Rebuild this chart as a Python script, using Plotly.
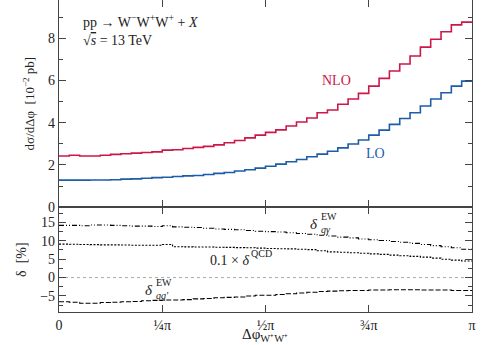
import numpy as np
import plotly.graph_objects as go
from plotly.subplots import make_subplots

# ---- data (40 bins over [0, pi]) ----
n_bins = 40
x_edges = np.linspace(0, np.pi, n_bins + 1)

nlo = [2.42, 2.46, 2.42, 2.42, 2.46, 2.50, 2.53, 2.56, 2.59, 2.62,
       2.70, 2.72, 2.78, 2.83, 2.88, 2.95, 3.05, 3.16, 3.28, 3.41,
       3.54, 3.66, 3.84, 4.03, 4.22, 4.47, 4.60, 4.87, 5.12, 5.39,
       5.73, 6.10, 6.45, 6.78, 7.16, 7.58, 7.95, 8.31, 8.63, 8.76]
lo = [1.28, 1.28, 1.28, 1.29, 1.29, 1.30, 1.33, 1.34, 1.37, 1.40,
      1.42, 1.45, 1.48, 1.50, 1.55, 1.60, 1.64, 1.71, 1.77, 1.85,
      1.94, 2.04, 2.15, 2.26, 2.39, 2.51, 2.65, 2.81, 2.99, 3.18,
      3.41, 3.65, 3.92, 4.20, 4.47, 4.79, 5.12, 5.42, 5.73, 5.97]
delta_qgamma = [14.2, 14.2, 14.1, 14.3, 14.3, 14.2, 14.1, 14.0, 14.0, 13.9,
                14.1, 13.8, 13.7, 13.6, 13.4, 13.2, 13.1, 13.0, 12.8, 12.6,
                12.5, 12.4, 12.2, 12.0, 11.8, 11.5, 11.3, 11.0, 10.8, 10.5,
                10.3, 10.1, 9.8, 9.6, 9.3, 9.0, 8.7, 8.4, 8.1, 7.7]
delta_qcd_01 = [9.1, 9.05, 9.0, 8.95, 8.9, 8.9, 8.85, 8.8, 8.8, 8.8,
                9.0, 8.4, 8.35, 8.3, 8.3, 8.25, 8.2, 8.15, 8.1, 8.0,
                7.9, 7.85, 7.8, 7.7, 7.6, 7.3, 7.0, 6.9, 6.75, 6.6,
                6.45, 6.3, 6.1, 5.95, 5.75, 5.55, 5.3, 5.0, 4.75, 4.5]
delta_qq = [-6.6, -6.7, -7.0, -7.0, -6.8, -6.7, -6.6, -6.5, -6.3, -6.2,
            -6.1, -6.1, -6.0, -5.8, -5.7, -5.5, -5.4, -5.3, -5.0, -4.8,
            -4.8, -4.6, -4.4, -4.2, -4.0, -3.8, -3.7, -3.6, -3.5, -3.5,
            -3.4, -3.4, -3.3, -3.3, -3.3, -3.4, -3.4, -3.4, -3.5, -3.5]

x_tickvals = [0, np.pi / 4, np.pi / 2, 3 * np.pi / 4, np.pi]
x_ticktext = ["0", "¼π", "½π", "¾π", "π"]

RED = "#cc1848"
BLUE = "#1c5ca8"
FONT = "Liberation Serif"

# plot-area geometry in pixels (for placing text)
PX_L, PX_W, PX_H = 59, 413, 312


def steps(vals):
    return list(x_edges), list(vals) + [vals[-1]]


fig = make_subplots(rows=2, cols=1, shared_xaxes=True,
                    row_heights=[0.664, 0.336], vertical_spacing=0)

for vals, col in [(nlo, RED), (lo, BLUE)]:
    xs, ys = steps(vals)
    fig.add_trace(go.Scatter(x=xs, y=ys, mode="lines", line_shape="hv",
                             line=dict(color=col, width=1.6),
                             showlegend=False), row=1, col=1)

fig.add_trace(go.Scatter(x=[0, np.pi], y=[0, 0], mode="lines",
                         line=dict(color="#aaaaaa", width=1, dash="dot"),
                         showlegend=False), row=2, col=1)

for vals, dash in [(delta_qgamma, "5px,2px,1px,2px,1px,2px"),
                   (delta_qcd_01, "2px,1.5px"),
                   (delta_qq, "5px,2px")]:
    xs, ys = steps(vals)
    fig.add_trace(go.Scatter(x=xs, y=ys, mode="lines", line_shape="hv",
                             line=dict(color="black", width=1.1, dash=dash),
                             showlegend=False), row=2, col=1)

axis_common = dict(showline=True, linecolor="#444", linewidth=1.3,
                   mirror="allticks", ticks="inside", tickcolor="#444",
                   showgrid=False, zeroline=False, automargin=False,
                   tickfont=dict(family=FONT, size=14, color="#222"))

fig.update_xaxes(range=[0, np.pi], tickvals=x_tickvals, ticktext=x_ticktext,
                 ticklen=7, **axis_common)
fig.update_xaxes(showticklabels=False, row=1, col=1)

fig.update_yaxes(range=[0, 9.81], tickvals=[0, 2, 4, 6, 8], ticklen=7,
                 minor=dict(dtick=1, ticks="inside", ticklen=4, tickcolor="#444"),
                 title=dict(text="dσ/dΔφ  [10<sup>−2</sup> pb]",
                            font=dict(family=FONT, size=13, color="#222"),
                            standoff=10),
                 row=1, col=1, **axis_common)
fig.update_yaxes(range=[-9.37, 19.15], tickvals=[-5, 0, 5, 10, 15], ticklen=7,
                 ticktext=["−5", "0", "5", "10", "15"],
                 minor=dict(dtick=2.5, tick0=0, ticks="inside", ticklen=4, tickcolor="#444"),
                 title=dict(text="δ  [%]",
                            font=dict(family=FONT, size=14, color="#222"),
                            standoff=10),
                 row=2, col=1, **axis_common)


def add_text(txt, px, py, col="#222", sz=14, anchor="center"):
    fig.add_annotation(text=txt, xref="paper", yref="paper",
                       x=(px - PX_L) / PX_W, y=(PX_H - py) / PX_H,
                       xanchor=anchor, yanchor="middle", showarrow=False,
                       font=dict(family=FONT, size=sz, color=col))


add_text("pp → W<sup>−</sup>W<sup>+</sup>W<sup>+</sup> + <i>X</i>", 81, 21, anchor="left")
add_text("√<span style='text-decoration:overline'><i>s</i></span> = 13 TeV", 81, 41, anchor="left")
add_text("NLO", 336, 80, RED)
add_text("LO", 375, 153, BLUE)

# δ^EW_qγ (stacked super/subscripts)
add_text("<i>δ</i>", 314, 224, sz=15)
add_text("EW", 319, 216, sz=10, anchor="left")
add_text("<i>qγ</i>", 319, 229, sz=10, anchor="left")
# 0.1 × δ^QCD
add_text("0.1 × <i>δ</i>", 208, 260, anchor="left")
add_text("QCD", 249, 253, sz=10, anchor="left")
# δ^EW_qq'
add_text("<i>δ</i>", 149, 290, sz=15)
add_text("EW", 154, 282, sz=10, anchor="left")
add_text("<i>qq′</i>", 154, 295, sz=10, anchor="left")

# x axis title
add_text("Δφ<sub>W⁺W⁺</sub>", 265, 335, sz=15)

fig.update_layout(width=492, height=345,
                  margin=dict(l=59, r=20, t=0, b=33),
                  plot_bgcolor="white", paper_bgcolor="white")

fig.write_html("out.html", config={"displayModeBar": False})

# remove the browser's default page margin so the figure sits at (0, 0)
with open("out.html", "r", encoding="utf-8") as f:
    html = f.read()
html = html.replace("<head>", "<head><style>html,body{margin:0;padding:0;overflow:hidden}</style>", 1)
with open("out.html", "w", encoding="utf-8") as f:
    f.write(html)
